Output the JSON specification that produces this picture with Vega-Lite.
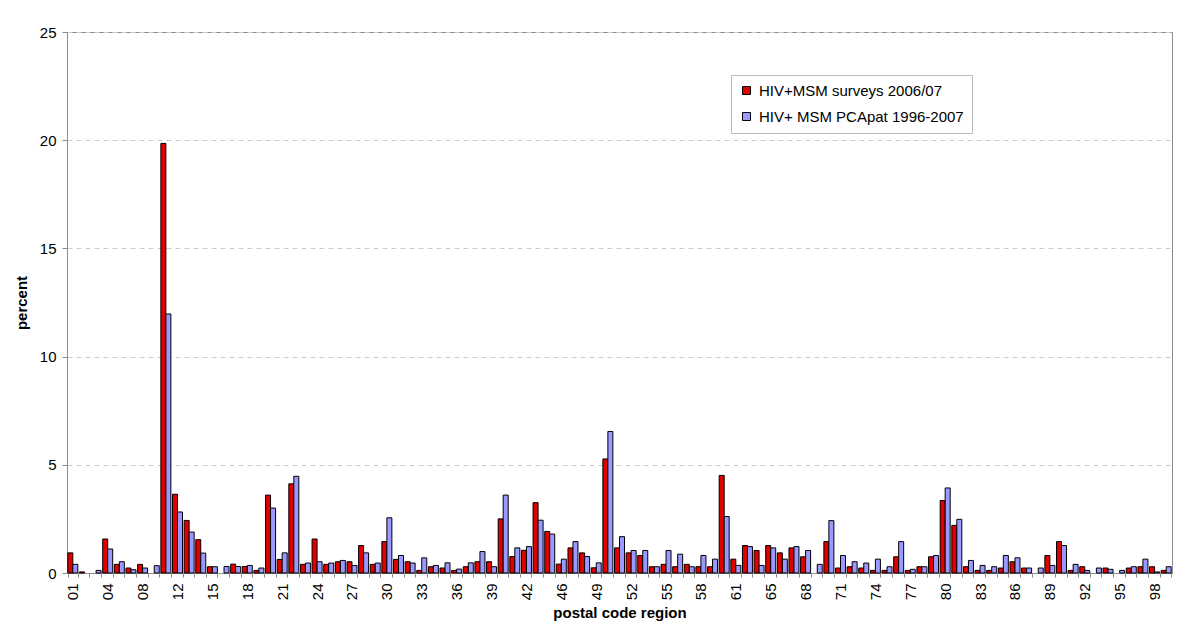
{
"$schema": "https://vega.github.io/schema/vega-lite/v6.json",
"width": 1105, "height": 541,
"autosize": {"type": "none"},
"padding": {"left": 67, "top": 32, "right": 28, "bottom": 71},
"background": "white",
"config": {"font": "Liberation Sans", "view": {"stroke": "#8c8c8c", "strokeWidth": 1}},
"datasets": {"d": [
{"r":"01","s":"S","v":0.93},{"r":"01","s":"P","v":0.40},
{"r":"02","s":"S","v":0.05},
{"r":"03","s":"P","v":0.12},
{"r":"04","s":"S","v":1.57},{"r":"04","s":"P","v":1.11},
{"r":"06","s":"S","v":0.40},{"r":"06","s":"P","v":0.52},
{"r":"07","s":"S","v":0.23},{"r":"07","s":"P","v":0.15},
{"r":"08","s":"S","v":0.40},{"r":"08","s":"P","v":0.23},
{"r":"09","s":"P","v":0.34},
{"r":"10","s":"S","v":19.85},{"r":"10","s":"P","v":11.97},
{"r":"12","s":"S","v":3.64},{"r":"12","s":"P","v":2.82},
{"r":"13","s":"S","v":2.43},{"r":"13","s":"P","v":1.89},
{"r":"14","s":"S","v":1.54},{"r":"14","s":"P","v":0.92},
{"r":"15","s":"S","v":0.29},{"r":"15","s":"P","v":0.29},
{"r":"16","s":"P","v":0.30},
{"r":"17","s":"S","v":0.41},{"r":"17","s":"P","v":0.30},
{"r":"18","s":"S","v":0.30},{"r":"18","s":"P","v":0.35},
{"r":"19","s":"S","v":0.12},{"r":"19","s":"P","v":0.23},
{"r":"20","s":"S","v":3.60},{"r":"20","s":"P","v":3.00},
{"r":"21","s":"S","v":0.63},{"r":"21","s":"P","v":0.93},
{"r":"22","s":"S","v":4.12},{"r":"22","s":"P","v":4.47},
{"r":"23","s":"S","v":0.40},{"r":"23","s":"P","v":0.46},
{"r":"24","s":"S","v":1.57},{"r":"24","s":"P","v":0.52},
{"r":"25","s":"S","v":0.40},{"r":"25","s":"P","v":0.46},
{"r":"26","s":"S","v":0.52},{"r":"26","s":"P","v":0.58},
{"r":"27","s":"S","v":0.52},{"r":"27","s":"P","v":0.35},
{"r":"28","s":"S","v":1.27},{"r":"28","s":"P","v":0.93},
{"r":"29","s":"S","v":0.40},{"r":"29","s":"P","v":0.46},
{"r":"30","s":"S","v":1.45},{"r":"30","s":"P","v":2.55},
{"r":"31","s":"S","v":0.63},{"r":"31","s":"P","v":0.81},
{"r":"32","s":"S","v":0.52},{"r":"32","s":"P","v":0.46},
{"r":"33","s":"S","v":0.12},{"r":"33","s":"P","v":0.70},
{"r":"34","s":"S","v":0.29},{"r":"34","s":"P","v":0.35},
{"r":"35","s":"S","v":0.23},{"r":"35","s":"P","v":0.47},
{"r":"36","s":"S","v":0.12},{"r":"36","s":"P","v":0.18},
{"r":"37","s":"S","v":0.29},{"r":"37","s":"P","v":0.47},
{"r":"38","s":"S","v":0.52},{"r":"38","s":"P","v":0.99},
{"r":"39","s":"S","v":0.52},{"r":"39","s":"P","v":0.29},
{"r":"40","s":"S","v":2.50},{"r":"40","s":"P","v":3.60},
{"r":"41","s":"S","v":0.76},{"r":"41","s":"P","v":1.16},
{"r":"42","s":"S","v":1.05},{"r":"42","s":"P","v":1.22},
{"r":"44","s":"S","v":3.25},{"r":"44","s":"P","v":2.44},
{"r":"45","s":"S","v":1.92},{"r":"45","s":"P","v":1.80},
{"r":"46","s":"S","v":0.41},{"r":"46","s":"P","v":0.64},
{"r":"47","s":"S","v":1.16},{"r":"47","s":"P","v":1.45},
{"r":"48","s":"S","v":0.93},{"r":"48","s":"P","v":0.76},
{"r":"49","s":"S","v":0.24},{"r":"49","s":"P","v":0.47},
{"r":"50","s":"S","v":5.27},{"r":"50","s":"P","v":6.54},
{"r":"51","s":"S","v":1.16},{"r":"51","s":"P","v":1.68},
{"r":"52","s":"S","v":0.93},{"r":"52","s":"P","v":1.04},
{"r":"53","s":"S","v":0.81},{"r":"53","s":"P","v":1.04},
{"r":"54","s":"S","v":0.29},{"r":"54","s":"P","v":0.29},
{"r":"55","s":"S","v":0.40},{"r":"55","s":"P","v":1.04},
{"r":"56","s":"S","v":0.29},{"r":"56","s":"P","v":0.87},
{"r":"57","s":"S","v":0.40},{"r":"57","s":"P","v":0.29},
{"r":"58","s":"S","v":0.29},{"r":"58","s":"P","v":0.81},
{"r":"59","s":"S","v":0.29},{"r":"59","s":"P","v":0.64},
{"r":"60","s":"S","v":4.51},{"r":"60","s":"P","v":2.61},
{"r":"61","s":"S","v":0.64},{"r":"61","s":"P","v":0.35},
{"r":"63","s":"S","v":1.27},{"r":"63","s":"P","v":1.22},
{"r":"64","s":"S","v":1.04},{"r":"64","s":"P","v":0.35},
{"r":"65","s":"S","v":1.27},{"r":"65","s":"P","v":1.16},
{"r":"66","s":"S","v":0.93},{"r":"66","s":"P","v":0.64},
{"r":"67","s":"S","v":1.16},{"r":"67","s":"P","v":1.22},
{"r":"68","s":"S","v":0.75},{"r":"68","s":"P","v":1.04},
{"r":"69","s":"P","v":0.40},
{"r":"70","s":"S","v":1.45},{"r":"70","s":"P","v":2.42},
{"r":"71","s":"S","v":0.23},{"r":"71","s":"P","v":0.81},
{"r":"72","s":"S","v":0.29},{"r":"72","s":"P","v":0.52},
{"r":"73","s":"S","v":0.23},{"r":"73","s":"P","v":0.46},
{"r":"74","s":"S","v":0.12},{"r":"74","s":"P","v":0.64},
{"r":"75","s":"S","v":0.12},{"r":"75","s":"P","v":0.29},
{"r":"76","s":"S","v":0.75},{"r":"76","s":"P","v":1.45},
{"r":"77","s":"S","v":0.12},{"r":"77","s":"P","v":0.17},
{"r":"78","s":"S","v":0.29},{"r":"78","s":"P","v":0.29},
{"r":"79","s":"S","v":0.75},{"r":"79","s":"P","v":0.81},
{"r":"80","s":"S","v":3.35},{"r":"80","s":"P","v":3.93},
{"r":"81","s":"S","v":2.20},{"r":"81","s":"P","v":2.48},
{"r":"82","s":"S","v":0.29},{"r":"82","s":"P","v":0.58},
{"r":"83","s":"S","v":0.12},{"r":"83","s":"P","v":0.35},
{"r":"84","s":"S","v":0.12},{"r":"84","s":"P","v":0.29},
{"r":"85","s":"S","v":0.23},{"r":"85","s":"P","v":0.81},
{"r":"86","s":"S","v":0.52},{"r":"86","s":"P","v":0.70},
{"r":"87","s":"S","v":0.23},{"r":"87","s":"P","v":0.23},
{"r":"88","s":"P","v":0.23},
{"r":"89","s":"S","v":0.81},{"r":"89","s":"P","v":0.35},
{"r":"90","s":"S","v":1.45},{"r":"90","s":"P","v":1.27},
{"r":"91","s":"S","v":0.12},{"r":"91","s":"P","v":0.40},
{"r":"92","s":"S","v":0.29},{"r":"92","s":"P","v":0.12},
{"r":"93","s":"P","v":0.23},
{"r":"94","s":"S","v":0.23},{"r":"94","s":"P","v":0.17},
{"r":"95","s":"P","v":0.12},
{"r":"96","s":"S","v":0.23},{"r":"96","s":"P","v":0.29},
{"r":"97","s":"S","v":0.29},{"r":"97","s":"P","v":0.64},
{"r":"98","s":"S","v":0.29},{"r":"98","s":"P","v":0.05},
{"r":"99","s":"S","v":0.12},{"r":"99","s":"P","v":0.29}
]},
"data": {"name": "d"},
"mark": {"type": "bar", "stroke": "black", "strokeWidth": 1},
"encoding": {
  "x": {"field": "r", "type": "nominal", "sort": null,
    "scale": {"domain": ["01","02","03","04","06","07","08","09","10","12","13","14","15","16","17","18","19","20","21","22","23","24","25","26","27","28","29","30","31","32","33","34","35","36","37","38","39","40","41","42","44","45","46","47","48","49","50","51","52","53","54","55","56","57","58","59","60","61","63","64","65","66","67","68","69","70","71","72","73","74","75","76","77","78","79","80","81","82","83","84","85","86","87","88","89","90","91","92","93","94","95","96","97","98","99"],
      "paddingInner": 0.14, "paddingOuter": 0.07},
    "axis": {"title": "postal code region", "titleFontSize": 15, "titleFontWeight": "bold", "titleColor": "black", "titlePadding": 6,
      "labelAngle": -90, "labelFontSize": 15, "labelColor": "black", "labelPadding": 6, "labelOverlap": false,
      "labelExpr": "indexof(['01','04','08','12','15','18','21','24','27','30','33','36','39','42','46','49','52','55','58','61','65','68','71','74','77','80','83','86','89','92','95','98'], datum.label) >= 0 ? datum.label : ''",
      "tickBand": "extent", "tickSize": 4, "tickColor": "#8c8c8c", "domainColor": "#8c8c8c", "grid": false}},
  "xOffset": {"field": "s", "scale": {"domain": ["S", "P"]}},
  "y": {"field": "v", "type": "quantitative", "scale": {"domain": [0, 25]},
    "axis": {"title": "percent", "titleFontSize": 15, "titleFontWeight": "bold", "titleColor": "black", "titlePadding": 10,
      "values": [0, 5, 10, 15, 20, 25], "labelFontSize": 15, "labelColor": "black", "labelPadding": 6,
      "tickSize": 5, "tickColor": "#8c8c8c", "domainColor": "#8c8c8c",
      "grid": true, "gridDash": [5, 4], "gridColor": "#cccccc"}},
  "color": {"field": "s", "type": "nominal",
    "scale": {"domain": ["S", "P"], "range": ["#e00000", "#9999ff"]},
    "legend": {"title": null, "orient": "none", "legendX": 664, "legendY": 43,
      "labelExpr": "datum.label == 'S' ? 'HIV+MSM surveys 2006/07' : 'HIV+ MSM PCApat 1996-2007'",
      "labelFontSize": 15, "labelColor": "black", "labelLimit": 400, "symbolType": "square", "symbolSize": 64,
      "symbolStrokeColor": "black", "symbolStrokeWidth": 1, "symbolOpacity": 1,
      "strokeColor": "#bbbbbb", "fillColor": "white", "padding": 8, "rowPadding": 10, "labelOffset": 5}}
}
}
